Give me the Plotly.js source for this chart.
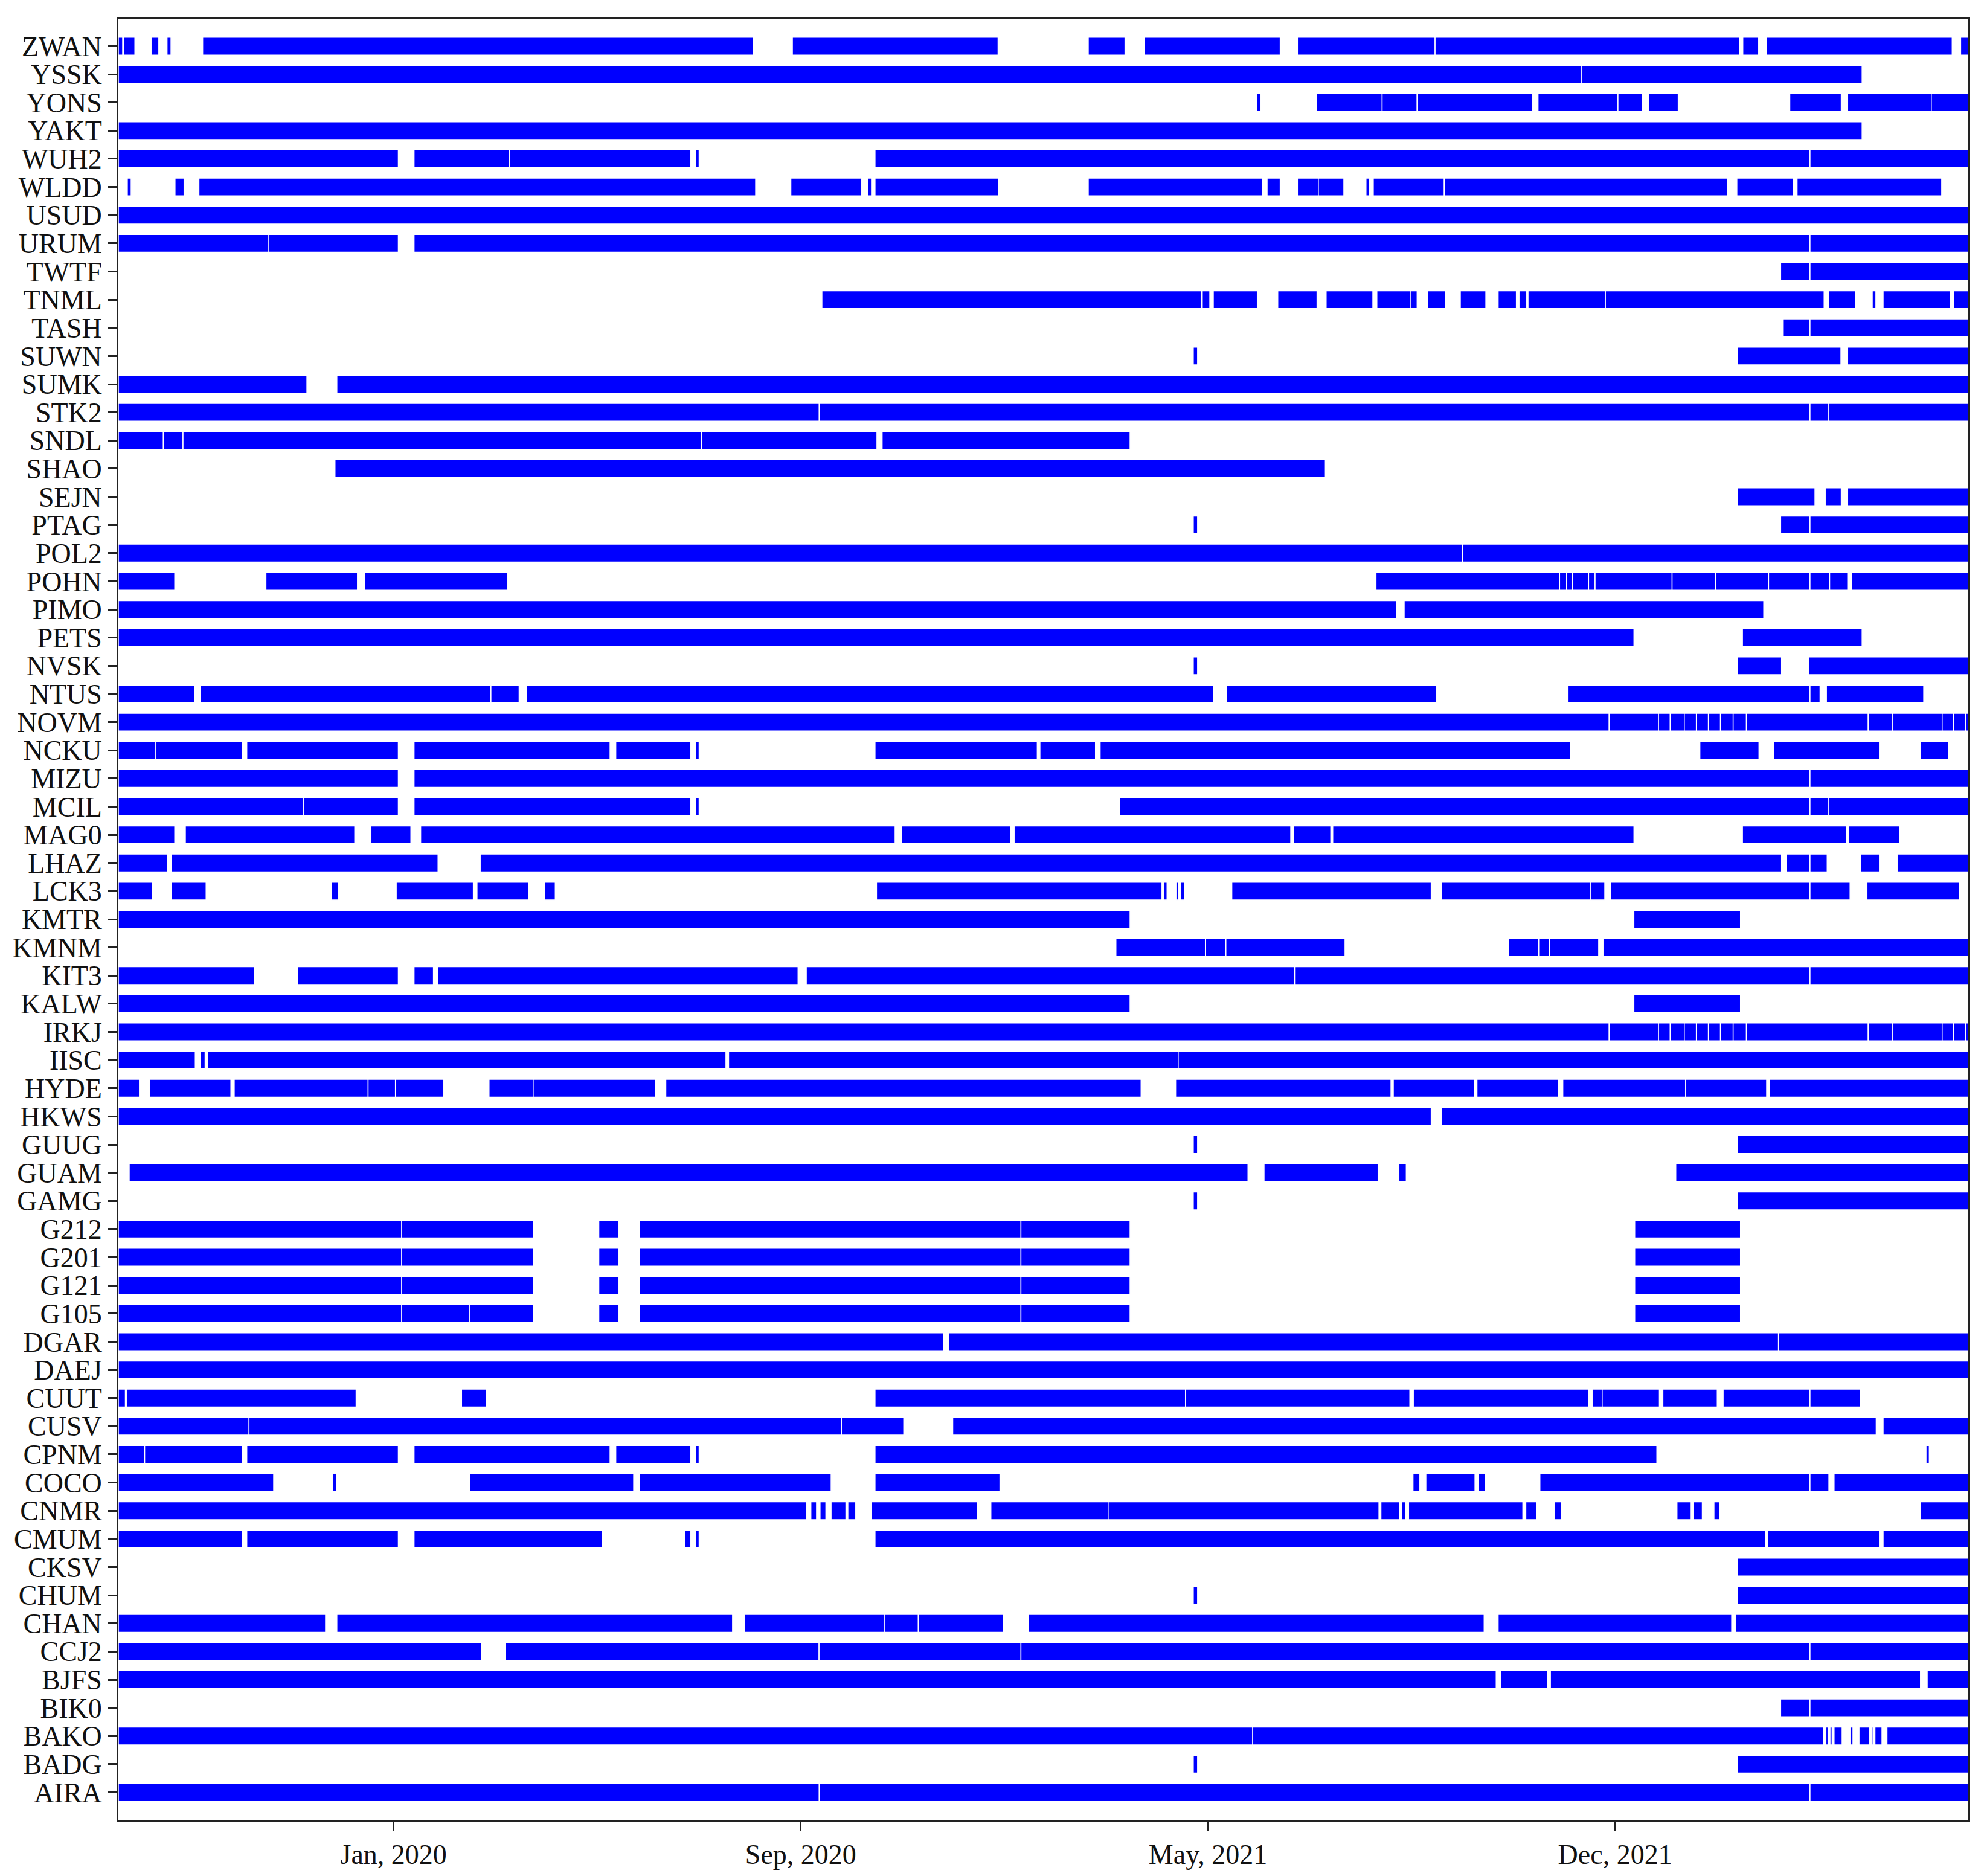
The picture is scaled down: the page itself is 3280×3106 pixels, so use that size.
<!DOCTYPE html>
<html>
<head>
<meta charset="utf-8">
<script src="https://cdn.plot.ly/plotly-3.0.1.min.js"></script>
<style>html,body{margin:0;padding:0;background:#fff;}#chart{width:3280px;height:3106px;}</style>
</head>
<body>
<div id="chart"></div>
<script>
// Segments: [startDay, endDay], days counted from baseDate (2019-08-01)
const baseDate = '2019-08-01';
const endDay = 1090.4;
const tickDays = [162.2, 402.2, 642.2, 882.2];
const tickLabels = ['Jan, 2020', 'Sep, 2020', 'May, 2021', 'Dec, 2021'];

const stations = ['ZWAN','YSSK','YONS','YAKT','WUH2','WLDD','USUD','URUM','TWTF','TNML','TASH','SUWN','SUMK','STK2','SNDL','SHAO','SEJN','PTAG','POL2','POHN','PIMO','PETS','NVSK','NTUS','NOVM','NCKU','MIZU','MCIL','MAG0','LHAZ','LCK3','KMTR','KMNM','KIT3','KALW','IRKJ','IISC','HYDE','HKWS','GUUG','GUAM','GAMG','G212','G201','G121','G105','DGAR','DAEJ','CUUT','CUSV','CPNM','COCO','CNMR','CMUM','CKSV','CHUM','CHAN','CCJ2','BJFS','BIK0','BAKO','BADG','AIRA'];

const seg_ZWAN = [[0,2.5],[3.2,9.7],[19.3,23.8],[28.7,31],[49.7,374.4],[397.3,518.5],[571.7,593.3],[604.6,684.8],[695,776.1],[776.1,955.4],[957.5,966.8],[971.5,1080.9],[1085.9,1090.4]];
const seg_YSSK = [[0,862.6],[862.6,1027.8]];
const seg_YONS = [[670.9,673.2],[706.1,744.9],[744.9,765.5],[765.5,833.4],[836.8,883.9],[883.9,898.3],[902.1,919.4],[985.2,1015.5],[1019.3,1068.6],[1068.6,1090.4]];
const seg_YAKT = [[0,1027.8]];
const seg_WUH2 = [[0,165],[174.3,230.4],[230.4,337.4],[340.4,342.3],[446,997.1],[997.1,1090.4]];
const seg_WLDD = [[5.3,7.5],[33.4,38.7],[47.5,375.6],[396.4,437.9],[441.6,443.9],[446,518.9],[571.7,674.4],[677.1,684.8],[695,707.3],[707.3,722.3],[735.4,737.3],[739.7,781.5],[781.5,948.3],[954,987.4],[989.5,1074.7]];
const seg_USUD = [[0,1090.4]];
const seg_URUM = [[0,88.3],[88.3,165],[174.3,997.1],[997.1,1090.4]];
const seg_TWTF = [[979.8,997.1],[997.1,1090.4]];
const seg_TNML = [[414.7,638.2],[638.9,643.3],[645.4,671.3],[683.4,706.5],[711.9,739.4],[741.8,761.9],[761.9,765.5],[771.6,782.3],[791,806],[813.3,824],[825.6,830.1],[830.9,876.5],[876.5,1005.4],[1008,1023.8],[1033.8,1035.9],[1040.2,1079.7],[1081.6,1090.4]];
const seg_TASH = [[981,997.1],[997.1,1090.4]];
const seg_SUWN = [[633.6,636.1],[954.2,1015.3],[1019.3,1090.4]];
const seg_SUMK = [[0,111.1],[128.8,1090.4]];
const seg_STK2 = [[0,413.1],[413.1,997.1],[997.1,1008.2],[1008.2,1090.4]];
const seg_SNDL = [[0,26.5],[26.5,38.1],[38.1,343.7],[343.7,447.1],[450.2,596.3]];
const seg_SHAO = [[127.7,711.4]];
const seg_SEJN = [[954.2,1000],[1006.1,1015.5],[1019.3,1090.4]];
const seg_PTAG = [[633.6,636.1],[979.8,997.1],[997.1,1090.4]];
const seg_POL2 = [[0,792.2],[792.2,1090.4]];
const seg_POHN = [[0,33.2],[87,140.9],[145.1,229.3],[741.3,849.5],[849.5,853.6],[853.6,857.1],[857.1,866.6],[866.6,870.4],[870.4,915.8],[915.8,941.4],[941.4,972.7],[972.7,997.1],[997.1,1008.7],[1008.7,1019.3],[1021.7,1090.4]];
const seg_PIMO = [[0,753.2],[757.9,969.8]];
const seg_PETS = [[0,893.3],[957.3,1027.8]];
const seg_NVSK = [[633.6,636.1],[954.2,980.3],[996.4,1090.4]];
const seg_NTUS = [[0,44.8],[48.4,219.6],[219.6,236.2],[240.4,645.4],[653.3,776.8],[854.5,997.1],[997.1,1003],[1006.8,1064.1]];
const seg_NOVM = [[0,878.7],[878.7,907.8],[907.8,914.7],[914.7,923],[923,930.1],[930.1,937.2],[937.2,944.3],[944.3,951.8],[951.8,959.6],[959.6,1031.4],[1031.4,1045.6],[1045.6,1075],[1075,1081.6],[1081.6,1088.7],[1088.7,1090.4]];
const seg_NCKU = [[0,22.1],[22.1,73.2],[75.7,165],[174.3,289.8],[293.2,337.4],[340.4,342.3],[446,541.6],[543.2,575.9],[578.7,855.9],[932.2,967],[975.8,1038],[1062.2,1078.8]];
const seg_MIZU = [[0,165],[174.3,997.1],[997.1,1090.4]];
const seg_MCIL = [[0,109],[109,165],[174.3,337.4],[340.4,342.3],[590,997.1],[997.1,1008.2],[1008.2,1090.4]];
const seg_MAG0 = [[0,33.2],[39.5,139.3],[148.9,172.4],[178.2,457.8],[461.5,525.9],[528,691],[692.6,714.6],[715.8,893.3],[957.3,1018.4],[1020,1049.9]];
const seg_LHAZ = [[0,29],[31.2,188.4],[213.3,980.3],[983.1,997.1],[997.1,1007.2],[1026.9,1038],[1048.7,1090.4]];
const seg_LCK3 = [[0,19.9],[31.2,51.7],[125.4,129.6],[163.8,209.2],[211.4,241.8],[251.4,257.5],[446.9,615.1],[616.2,618.1],[623.4,625],[626.2,628.5],[656.3,773.8],[779.9,867.6],[867.6,876.1],[879.4,997.1],[997.1,1020.7],[1030.7,1085.2]];
const seg_KMTR = [[0,596.3],[893.3,956.1]];
const seg_KMNM = [[588,640.7],[640.7,652.8],[652.8,723],[819.5,837.2],[837.2,843.6],[843.6,872.5],[875.1,1090.4]];
const seg_KIT3 = [[0,80.1],[105.5,165],[174.3,185.7],[188.4,400.6],[405.5,693.3],[693.3,997.1],[997.1,1090.4]];
const seg_KALW = [[0,596.3],[893.3,956.1]];
const seg_IRKJ = [[0,878.7],[878.7,907.8],[907.8,914.7],[914.7,923],[923,930.1],[930.1,937.2],[937.2,944.3],[944.3,951.8],[951.8,959.6],[959.6,1031.4],[1031.4,1045.6],[1045.6,1075],[1075,1081.6],[1081.6,1088.7],[1088.7,1090.4]];
const seg_IISC = [[0,45.3],[48.4,51.1],[52.5,358.1],[359.7,624.7],[624.7,1090.4]];
const seg_HYDE = [[0,12.4],[18.5,66.3],[68.3,147.2],[147.2,163.3],[163.3,191.8],[218.5,244.5],[244.5,316.4],[322.7,602.8],[623.2,750.1],[751.5,799.3],[800.8,848.6],[851.4,923.8],[923.8,971.5],[973.1,1090.4]];
const seg_HKWS = [[0,773.8],[779.9,1090.4]];
const seg_GUUG = [[633.6,636.1],[954.2,1090.4]];
const seg_GUAM = [[6.4,665.8],[675.3,742.5],[754.8,759.1],[918,1090.4]];
const seg_GAMG = [[633.6,636.1],[954.2,1090.4]];
const seg_G212 = [[0,167],[167,244.5],[283.2,294.8],[307,532],[532,596.3],[893.8,956.1]];
const seg_G201 = [[0,167],[167,244.5],[283.2,294.8],[307,532],[532,596.3],[893.8,956.1]];
const seg_G121 = [[0,167],[167,244.5],[283.2,294.8],[307,532],[532,596.3],[893.8,956.1]];
const seg_G105 = [[0,167],[167,207.2],[207.2,244.5],[283.2,294.8],[307,532],[532,596.3],[893.8,956.1]];
const seg_DGAR = [[0,486.5],[489.5,978.5],[978.5,1090.4]];
const seg_DAEJ = [[0,1090.4]];
const seg_CUUT = [[0,4.1],[4.7,140.1],[202.3,216.9],[446,629],[629,761.2],[763.3,866.6],[868.7,874.6],[874.6,908.3],[910.4,942.4],[945.9,997.1],[997.1,1026.6]];
const seg_CUSV = [[0,77],[77,426.2],[426.2,462.9],[491.8,1036.1],[1040.2,1090.4]];
const seg_CPNM = [[0,15.5],[15.5,73.2],[75.7,165],[174.3,289.8],[293.2,337.4],[340.4,342.3],[446,906.8],[1065.5,1067.4]];
const seg_COCO = [[0,91.5],[126.3,128.5],[207.2,303.7],[307,420.1],[446,519.6],[763.1,767.1],[770.7,799.6],[801.5,805.7],[837.9,997.1],[997.1,1008.2],[1011.3,1090.4]];
const seg_CNMR = [[0,405.5],[408.2,411.5],[413.6,417],[420.1,428.8],[430,434.6],[443.9,506.4],[514.3,583.4],[583.4,743],[744.2,755.3],[756.4,758.8],[760.5,827.8],[829.6,836],[846.5,850.7],[918.7,927],[928.4,933.6],[940.5,943.8],[1062.2,1090.4]];
const seg_CMUM = [[0,73.2],[75.7,165],[174.3,285.4],[334,337.4],[340.4,342.3],[446,970.8],[972.2,1038],[1040.2,1090.4]];
const seg_CKSV = [[954.2,1090.4]];
const seg_CHUM = [[633.6,636.1],[954.2,1090.4]];
const seg_CHAN = [[0,122.1],[128.8,362],[369.1,451.8],[451.8,471.5],[471.5,521.7],[536.5,805],[813.3,950.9],[953.3,1090.4]];
const seg_CCJ2 = [[0,213.9],[228.2,413],[413,532],[532,997.1],[997.1,1090.4]];
const seg_BJFS = [[0,812.1],[814.7,842.4],[844.1,1062.2],[1066.2,1090.4]];
const seg_BIK0 = [[979.8,997.1],[997.1,1090.4]];
const seg_BAKO = [[0,668.6],[668.6,1005.1],[1006.5,1007.7],[1008.9,1010.1],[1011.3,1016],[1020.7,1022.4],[1026,1032.3],[1033.5,1034.2],[1035.4,1039.5],[1042.5,1090.4]];
const seg_BADG = [[633.6,636.1],[954.2,1090.4]];
const seg_AIRA = [[0,413.1],[413.1,997.1],[997.1,1090.4]];

const stationSegments = [seg_ZWAN,seg_YSSK,seg_YONS,seg_YAKT,seg_WUH2,seg_WLDD,seg_USUD,seg_URUM,seg_TWTF,seg_TNML,seg_TASH,seg_SUWN,seg_SUMK,seg_STK2,seg_SNDL,seg_SHAO,seg_SEJN,seg_PTAG,seg_POL2,seg_POHN,seg_PIMO,seg_PETS,seg_NVSK,seg_NTUS,seg_NOVM,seg_NCKU,seg_MIZU,seg_MCIL,seg_MAG0,seg_LHAZ,seg_LCK3,seg_KMTR,seg_KMNM,seg_KIT3,seg_KALW,seg_IRKJ,seg_IISC,seg_HYDE,seg_HKWS,seg_GUUG,seg_GUAM,seg_GAMG,seg_G212,seg_G201,seg_G121,seg_G105,seg_DGAR,seg_DAEJ,seg_CUUT,seg_CUSV,seg_CPNM,seg_COCO,seg_CNMR,seg_CMUM,seg_CKSV,seg_CHUM,seg_CHAN,seg_CCJ2,seg_BJFS,seg_BIK0,seg_BAKO,seg_BADG,seg_AIRA];

const DAY = 86400000;
const base0 = Date.parse(baseDate + 'T00:00:00Z');
function dayToDate(d) {
  return new Date(base0 + d * DAY).toISOString().replace('T', ' ').replace('Z', '');
}

const ys = [], bases = [], lens = [];
stations.forEach(function (name, i) {
  stationSegments[i].forEach(function (s) {
    ys.push(name);
    bases.push(dayToDate(s[0]));
    lens.push((s[1] - s[0]) * DAY);
  });
});

const trace = {
  type: 'bar',
  orientation: 'h',
  y: ys,
  x: lens,
  base: bases,
  width: 0.63,
  marker: { color: '#0000ff', line: { color: '#ffffff', width: 1.5 } },
  hoverinfo: 'skip'
};

const fontFam = 'Liberation Serif, Times New Roman, serif';
const layout = {
  width: 3280,
  height: 3106,
  margin: { l: 196, r: 21, t: 31, b: 93 },
  paper_bgcolor: '#ffffff',
  plot_bgcolor: '#ffffff',
  showlegend: false,
  barmode: 'overlay',
  font: { family: fontFam, size: 46, color: '#111' },
  xaxis: {
    type: 'date',
    range: [dayToDate(0), dayToDate(endDay)],
    tickmode: 'array',
    tickvals: tickDays.map(dayToDate),
    ticktext: tickLabels,
    ticks: 'outside',
    ticklen: 15,
    tickwidth: 3,
    tickcolor: '#222',
    showline: true,
    mirror: true,
    linecolor: '#222',
    linewidth: 3,
    showgrid: false,
    zeroline: false,
    tickfont: { family: fontFam, size: 46, color: '#111' }
  },
  yaxis: {
    type: 'category',
    categoryorder: 'array',
    categoryarray: stations.slice().reverse(),
    tickmode: 'array',
    tickvals: stations,
    ticktext: stations,
    range: [-0.975, stations.length - 1 + 0.975],
    ticks: 'outside',
    ticklen: 15,
    tickwidth: 3,
    tickcolor: '#222',
    showline: true,
    mirror: true,
    linecolor: '#222',
    linewidth: 3,
    showgrid: false,
    zeroline: false,
    automargin: false,
    tickfont: { family: fontFam, size: 46, color: '#111' }
  }
};

Plotly.newPlot('chart', [trace], layout, { staticPlot: true, displayModeBar: false });
</script>
</body>
</html>
